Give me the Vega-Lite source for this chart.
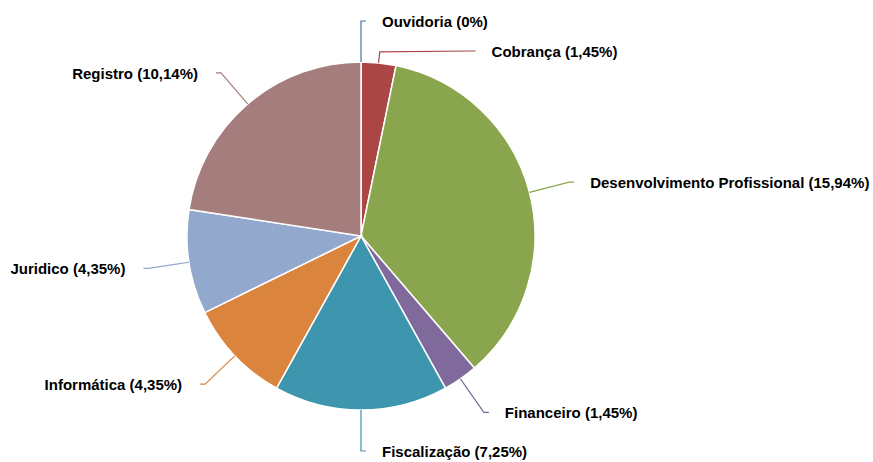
{
  "$schema": "https://vega.github.io/schema/vega-lite/v6.json",
  "width": 873,
  "height": 462,
  "padding": 0,
  "autosize": {"type": "none"},
  "background": "white",
  "config": {"view": {"stroke": null}},
  "data": {
    "values": [
      {"categoria": "Ouvidoria", "valor": 0, "ordem": 1},
      {"categoria": "Cobrança", "valor": 1.45, "ordem": 2},
      {"categoria": "Desenvolvimento Profissional", "valor": 15.94, "ordem": 3},
      {"categoria": "Financeiro", "valor": 1.45, "ordem": 4},
      {"categoria": "Fiscalização", "valor": 7.25, "ordem": 5},
      {"categoria": "Informática", "valor": 4.35, "ordem": 6},
      {"categoria": "Juridico", "valor": 4.35, "ordem": 7},
      {"categoria": "Registro", "valor": 10.14, "ordem": 8}
    ]
  },
  "transform": [
    {"joinaggregate": [{"op": "sum", "field": "valor", "as": "total"}]},
    {"window": [{"op": "sum", "field": "valor", "as": "cum"}], "sort": [{"field": "ordem", "order": "ascending"}], "frame": [null, 0]},
    {"calculate": "(datum.cum - datum.valor / 2) / datum.total * 2 * PI", "as": "mid"},
    {"calculate": "datum.mid < PI + 0.01 ? 'R' : 'L'", "as": "side"},
    {"calculate": "datum.side == 'R' ? 1 : -1", "as": "sgn"},
    {"calculate": "-cos(datum.mid) * 215", "as": "ny"},
    {"window": [{"op": "lag", "field": "ny", "as": "prevy"}], "groupby": ["side"], "sort": [{"field": "ny", "order": "ascending"}]},
    {"calculate": "datum.prevy == null ? datum.ny : max(datum.ny, datum.prevy + 30)", "as": "ly"},
    {"calculate": "datum.sgn * sqrt(max(0, 215 * 215 - datum.ly * datum.ly))", "as": "lx"},
    {"calculate": "datum.lx + (datum.sgn > 0 ? 21 : -23)", "as": "tx"},
    {"calculate": "datum.categoria + ' (' + replace(toString(datum.valor), '.', ',') + '%)'", "as": "rotulo"}
  ],
  "layer": [
    {
      "mark": {"type": "arc", "outerRadius": 174, "stroke": "white", "strokeWidth": 1.5},
      "encoding": {
        "theta": {"field": "valor", "type": "quantitative", "stack": true},
        "order": {"field": "ordem", "type": "quantitative"},
        "color": {
          "field": "categoria",
          "type": "nominal",
          "scale": {
            "domain": ["Ouvidoria", "Cobrança", "Desenvolvimento Profissional", "Financeiro", "Fiscalização", "Informática", "Juridico", "Registro"],
            "range": ["#4572A7", "#AA4643", "#89A54E", "#80699B", "#3D96AE", "#DB843D", "#92A8CD", "#A47D7C"]
          },
          "legend": null
        },
        "x": {"datum": 0, "type": "quantitative", "scale": {"domain": [-361, 512], "nice": false, "zero": false}, "axis": null},
        "y": {"datum": 0, "type": "quantitative", "scale": {"domain": [-236, 226], "nice": false, "zero": false, "reverse": true}, "axis": null}
      }
    },
    {
      "transform": [
        {"calculate": "[0, 1, 2, 3]", "as": "pts"},
        {"flatten": ["pts"]},
        {"calculate": "datum.pts == 0 ? sin(datum.mid) * 174 : datum.pts == 1 ? sin(datum.mid) * 185 : datum.pts == 2 ? datum.lx : datum.lx + datum.sgn * 5", "as": "px"},
        {"calculate": "datum.pts == 0 ? -cos(datum.mid) * 174 : datum.pts == 1 ? -cos(datum.mid) * 185 : datum.ly", "as": "py"}
      ],
      "mark": {"type": "line", "strokeWidth": 1.2, "interpolate": "linear"},
      "encoding": {
        "x": {"field": "px", "type": "quantitative", "axis": null},
        "y": {"field": "py", "type": "quantitative", "axis": null},
        "color": {"field": "categoria", "type": "nominal", "legend": null},
        "order": {"field": "pts", "type": "quantitative"}
      }
    },
    {
      "transform": [{"filter": "datum.side == 'R'"}],
      "mark": {"type": "text", "align": "left", "baseline": "middle", "dy": 1, "font": "Liberation Sans", "fontWeight": "bold", "fontSize": 15, "color": "#000000"},
      "encoding": {
        "x": {"field": "tx", "type": "quantitative", "axis": null},
        "y": {"field": "ly", "type": "quantitative", "axis": null},
        "text": {"field": "rotulo", "type": "nominal"}
      }
    },
    {
      "transform": [{"filter": "datum.side == 'L'"}],
      "mark": {"type": "text", "align": "right", "baseline": "middle", "dy": 1, "font": "Liberation Sans", "fontWeight": "bold", "fontSize": 15, "color": "#000000"},
      "encoding": {
        "x": {"field": "tx", "type": "quantitative", "axis": null},
        "y": {"field": "ly", "type": "quantitative", "axis": null},
        "text": {"field": "rotulo", "type": "nominal"}
      }
    }
  ]
}
